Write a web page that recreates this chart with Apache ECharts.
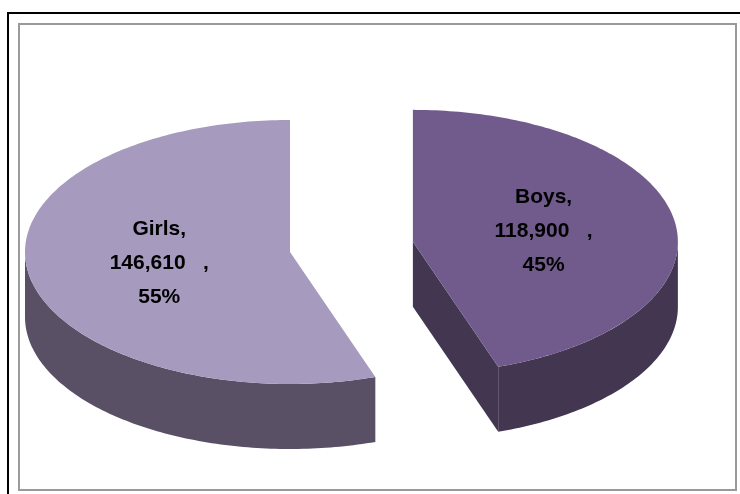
<!DOCTYPE html>
<html>
<head>
<meta charset="utf-8">
<script src="https://cdn.jsdelivr.net/npm/echarts@6/dist/echarts.min.js"></script>
<style>
  html, body { margin: 0; padding: 0; background: #fff; }
  #main { width: 740px; height: 494px; }
</style>
</head>
<body>
<div id="main"></div>
<script>
// chart data
var categories = ['Boys', 'Girls'];
var values = [118900, 146610];

// look
var topColors = ['#715b8c', '#a69bbe'];
var sideColors = ['#433650', '#5a5065'];
var explode = [0.47, 0]; // Boys slice pulled out

var cx = 290, cy = 252, rx = 265, ry = 132, depth = 65;
var total = values.reduce(function (a, b) { return a + b; }, 0);

function pt(x, y, deg) {
  var a = deg * Math.PI / 180;
  return [x + rx * Math.sin(a), y - ry * Math.cos(a)];
}
function arc(x, y, a0, a1) {
  var pts = [];
  var n = Math.max(2, Math.ceil(Math.abs(a1 - a0)));
  for (var i = 0; i <= n; i++) pts.push(pt(x, y, a0 + (a1 - a0) * i / n));
  return pts;
}

function renderItem(params, api) {
  var i = params.dataIndex;
  var before = 0;
  for (var k = 0; k < i; k++) before += values[k];
  var v = api.value(0);
  var a0 = before / total * 360;
  var a1 = (before + v) / total * 360;
  var m = (a0 + a1) / 2 * Math.PI / 180;
  var ox = cx + explode[i] * rx * Math.sin(m);
  var oy = cy - explode[i] * ry * Math.cos(m);
  var children = [];

  // outer wall, only the front half shows
  var s0 = Math.max(a0, 90), s1 = Math.min(a1, 270);
  if (s1 > s0) {
    children.push({
      type: 'polygon', z2: 1,
      shape: { points: arc(ox, oy, s0, s1).concat(arc(ox, oy + depth, s1, s0)) },
      style: { fill: sideColors[i] }
    });
  }
  // cut faces facing the viewer
  [[a0, a0 - 90], [a1, a1 + 90]].forEach(function (f) {
    if (Math.cos(f[1] * Math.PI / 180) < -1e-6) {
      var r = pt(ox, oy, f[0]);
      children.push({
        type: 'polygon', z2: 2,
        shape: { points: [[ox, oy], r, [r[0], r[1] + depth], [ox, oy + depth]] },
        style: { fill: sideColors[i] }
      });
    }
  });
  // top face
  children.push({
    type: 'polygon', z2: 3,
    shape: { points: [[ox, oy]].concat(arc(ox, oy, a0, a1)) },
    style: { fill: topColors[i] }
  });
  // label
  var pct = Math.round(v / total * 100);
  children.push({
    type: 'text', z2: 4,
    x: ox + 0.5 * rx * Math.sin(m),
    y: oy - 0.5 * ry * Math.cos(m),
    style: {
      text: categories[i] + ',\n' + v.toLocaleString('en-US') + '   ,\n' + pct + '%',
      fill: '#000',
      fontSize: 21,
      fontWeight: 'bold',
      fontFamily: '"Liberation Sans", Arial, sans-serif',
      lineHeight: 34,
      align: 'center',
      verticalAlign: 'middle'
    }
  });
  return { type: 'group', children: children };
}

var option = {
  backgroundColor: '#fff',
  animation: false,
  graphic: [
    { type: 'rect', shape: { x: 8, y: 13, width: 800, height: 600 },
      style: { fill: 'none', stroke: '#000', lineWidth: 2 } },
    { type: 'rect', shape: { x: 19, y: 24, width: 717, height: 466 },
      style: { fill: 'none', stroke: '#9a9a9a', lineWidth: 2 } }
  ],
  series: [{
    type: 'custom',
    coordinateSystem: 'none',
    renderItem: renderItem,
    data: values.map(function (v, i) { return { name: categories[i], value: v }; })
  }]
};

var myChart = echarts.init(document.getElementById('main'));
myChart.setOption(option);
</script>
</body>
</html>
